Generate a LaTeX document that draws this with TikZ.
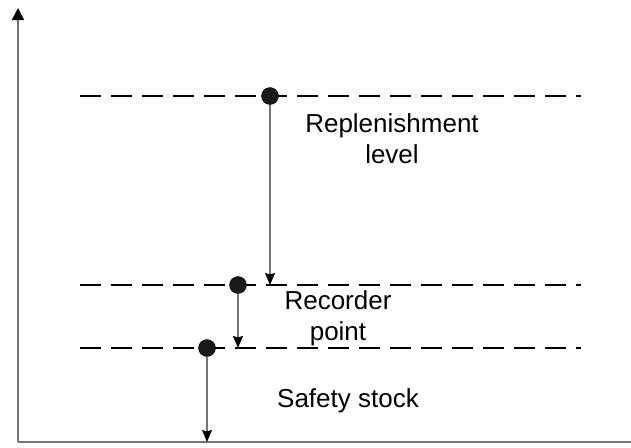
\documentclass[tikz,border=0pt]{standalone}
\usepackage{fontspec}
\setmainfont{Liberation Sans}
\usetikzlibrary{arrows.meta}
\begin{document}
\begin{tikzpicture}[x=1pt,y=-1pt,
  axisline/.style={draw=black!55,line width=1.6pt},
  level/.style={draw=black,line width=2.2pt,dash pattern=on 21pt off 10pt},
  marker/.style={circle,fill=black!90,draw=black,inner sep=0pt,minimum size=17pt},
  span/.style={draw=black!55,line width=1.1pt,-{Stealth[length=12pt,width=10pt,inset=1.5pt,black]}},
  label/.style={font=\fontsize{26}{31}\selectfont,align=center,anchor=base,inner sep=0pt}]
  \useasboundingbox (0,0) rectangle (631,447);
  % axes
  \coordinate (origin) at (18,442);
  \coordinate (ytop) at (18,8);
  \coordinate (xend) at (631,442);
  \draw[axisline] (origin) -- (xend);
  \draw[axisline,-{Triangle[length=12pt,width=12pt,black]}] (origin) -- (ytop);
  % dashed levels
  \coordinate (l1a) at (80,96);  \coordinate (l1b) at (581,96);
  \coordinate (l2a) at (80,285); \coordinate (l2b) at (581,285);
  \coordinate (l3a) at (80,348); \coordinate (l3b) at (581,348);
  \draw[level] (l1a) -- (l1b);
  \draw[level] (l2a) -- (l2b);
  \draw[level] (l3a) -- (l3b);
  % markers and spans
  \node[marker] (m1) at (270,96) {};
  \node[marker] (m2) at (238,285) {};
  \node[marker] (m3) at (207,348) {};
  \coordinate (e1) at (270,285);
  \coordinate (e2) at (238,348);
  \coordinate (e3) at (207,442);
  \draw[span] (m1) -- (e1);
  \draw[span] (m2) -- (e2);
  \draw[span] (m3) -- (e3);
  % labels (base anchor sits on the last line)
  \node[label] (t1) at (392,163) {Replenishment\\level};
  \node[label] (t2) at (338,340) {Recorder\\point};
  \node[label] (t3) at (348,407) {Safety stock};
\end{tikzpicture}
\end{document}
